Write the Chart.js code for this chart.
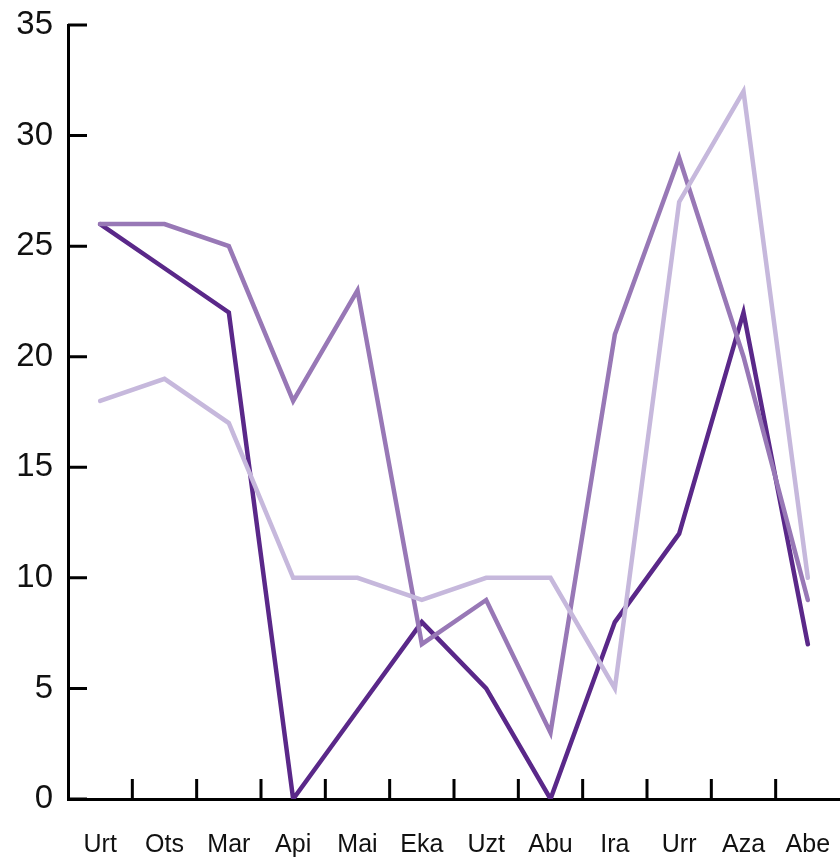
<!DOCTYPE html>
<html>
<head>
<meta charset="utf-8">
<script src="https://cdn.jsdelivr.net/npm/chart.js@4/dist/chart.umd.min.js"></script>
<style>
  html, body { margin: 0; padding: 0; background: #fff; }
  #wrap { width: 840px; height: 857px; }
</style>
</head>
<body>
<div id="wrap"><canvas id="lineChart"></canvas></div>
<script>
// Months (Basque)
var months = ["Urt", "Ots", "Mar", "Api", "Mai", "Eka", "Uzt", "Abu", "Ira", "Urr", "Aza", "Abe"];

// Series values
var seriesDark   = [26, 24, 22, 0, 4, 8, 5, 0, 8, 12, 22, 7];
var seriesMedium = [26, 26, 25, 18, 23, 7, 9, 3, 21, 29, 20, 9];
var seriesLight  = [18, 19, 17, 10, 10, 9, 10, 10, 5, 27, 32, 10];

var yTicks = [0, 5, 10, 15, 20, 25, 30, 35];

// Draw short tick marks on the inside of the axes
var innerTicks = {
    id: "innerTicks",
    afterDraw: function (chart) {
        var ctx = chart.ctx;
        var area = chart.chartArea;
        var x = chart.scales.x;
        var y = chart.scales.y;
        ctx.save();
        ctx.strokeStyle = "#000";
        ctx.lineWidth = 3;
        ctx.beginPath();
        yTicks.forEach(function (v) {
            var py = y.getPixelForValue(v);
            ctx.moveTo(area.left, py);
            ctx.lineTo(area.left + 19, py);
        });
        for (var i = 1; i < months.length; i++) {
            var px = (x.getPixelForValue(i - 1) + x.getPixelForValue(i)) / 2;
            ctx.moveTo(px, area.bottom);
            ctx.lineTo(px, area.bottom - 20);
        }
        ctx.stroke();
        ctx.restore();
    }
};

const config = {
    type: "line",
    data: {
        labels: months,
        datasets: [
            {
                data: seriesLight,
                borderColor: "#c6b8dc",
                borderWidth: 4.5,
            },
            {
                data: seriesMedium,
                borderColor: "#9878b6",
                borderWidth: 4.5,
            },
            {
                data: seriesDark,
                borderColor: "#5a2889",
                borderWidth: 4.5,
            },
        ],
    },
    options: {
        responsive: true,
        maintainAspectRatio: false,
        animation: false,
        layout: {
            padding: { top: 25, right: 0, left: 0, bottom: 0 },
        },
        elements: {
            point: { radius: 0 },
            line: { tension: 0, borderJoinStyle: "miter", borderCapStyle: "round" },
        },
        scales: {
            x: {
                offset: true,
                grid: { display: false, drawTicks: false },
                border: { display: true, color: "#000", width: 3 },
                ticks: {
                    color: "#111",
                    padding: 31,
                    maxRotation: 0,
                    font: { family: "Liberation Sans", size: 25 },
                },
                afterFit: function (scale) {
                    scale.height = 58;
                    scale.paddingLeft = 0;
                    scale.paddingRight = 0;
                },
            },
            y: {
                min: 0,
                max: 35,
                grid: { display: false, drawTicks: false },
                border: { display: true, color: "#000", width: 3 },
                ticks: {
                    stepSize: 5,
                    color: "#111",
                    padding: 15,
                    font: { family: "Liberation Sans", size: 33 },
                },
                afterFit: function (scale) {
                    scale.width = 68;
                    scale.paddingTop = 0;
                    scale.paddingBottom = 0;
                },
            },
        },
        plugins: {
            legend: { display: false },
            tooltip: { enabled: false },
        },
    },
    plugins: [innerTicks],
};

new Chart(document.getElementById("lineChart"), config);
</script>
</body>
</html>
